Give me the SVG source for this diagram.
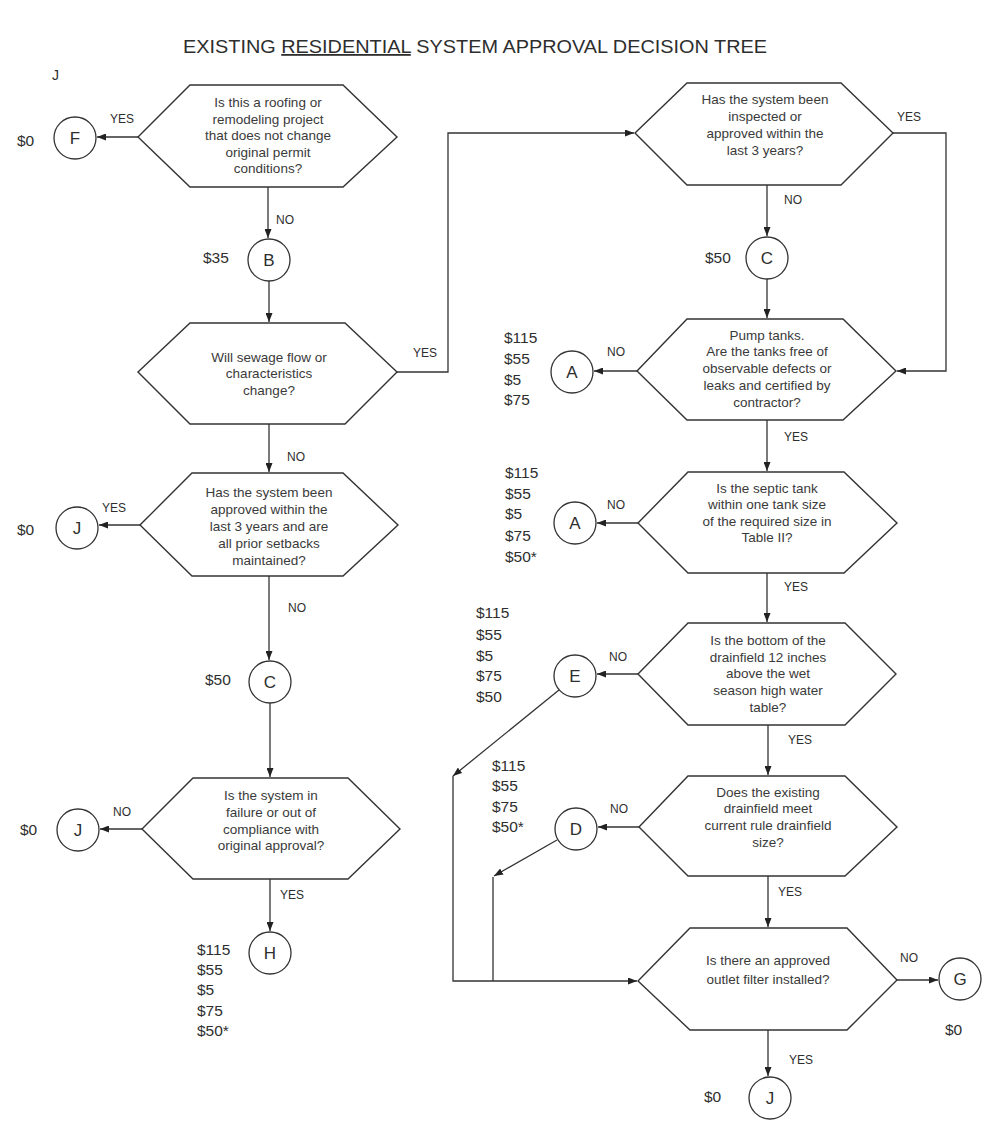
<svg xmlns="http://www.w3.org/2000/svg" width="985" height="1121" viewBox="0 0 985 1121">
<style>
.hex{fill:#fff;stroke:#333;stroke-width:1.4}
.cir{fill:#fff;stroke:#333;stroke-width:1.3}
text{font-family:"Liberation Sans",Arial,sans-serif;fill:#2e2e2e}
.ht{font-size:13.5px;text-anchor:middle;fill:#3a3a3a}
.lt{font-size:12px}
.mt{font-size:15.5px}
.ct{font-size:17px;text-anchor:middle}
.cn{fill:none;stroke:#333;stroke-width:1.3}
.ar{marker-end:url(#ah)}
</style>
<defs>
<marker id="ah" markerWidth="9" markerHeight="7" refX="9" refY="3.5" orient="auto" markerUnits="userSpaceOnUse"><path d="M0,0 L9,3.5 L0,7 z" fill="#222"/></marker>
</defs>
<rect width="985" height="1121" fill="#fff"/>
<text x="183" y="53" font-size="18" textLength="584" lengthAdjust="spacingAndGlyphs">EXISTING <tspan text-decoration="underline">RESIDENTIAL</tspan> SYSTEM APPROVAL DECISION TREE</text>
<text x="52" y="80" font-size="14">J</text>

<g id="connectors">
<path class="cn ar" d="M138,137 H97"/>
<path class="cn ar" d="M268,187 V238"/>
<path class="cn ar" d="M269,281 V322"/>
<path class="cn ar" d="M269,424 V472"/>
<path class="cn ar" d="M397,372 H448 V133 H634"/>
<path class="cn ar" d="M140,525 H99"/>
<path class="cn ar" d="M269,576 V660"/>
<path class="cn ar" d="M270,703 V777"/>
<path class="cn ar" d="M142,829 H100"/>
<path class="cn ar" d="M270,879 V931"/>
<path class="cn ar" d="M893,133 H946 V371 H897"/>
<path class="cn ar" d="M767,185 V236"/>
<path class="cn ar" d="M767,279 V318"/>
<path class="cn ar" d="M637,371 H594"/>
<path class="cn ar" d="M767,420 V471"/>
<path class="cn ar" d="M638,523 H597"/>
<path class="cn ar" d="M767,573 V622"/>
<path class="cn ar" d="M638,674 H597"/>
<path class="cn ar" d="M768,725 V775"/>
<path class="cn ar" d="M639,827 H598"/>
<path class="cn ar" d="M768,876 V927"/>
<path class="cn ar" d="M559,690 L453,776"/>
<path class="cn ar" d="M453,776 V981 H637"/>
<path class="cn ar" d="M557,840 L494,876"/>
<path class="cn" d="M493,877 V981"/>
<path class="cn ar" d="M897,980 H938"/>
<path class="cn ar" d="M768,1030 V1076"/>
<text class="lt" x="110" y="123">YES</text>
<text class="lt" x="276" y="224">NO</text>
<text class="lt" x="413" y="357">YES</text>
<text class="lt" x="287" y="461">NO</text>
<text class="lt" x="102" y="512">YES</text>
<text class="lt" x="288" y="612">NO</text>
<text class="lt" x="113" y="816">NO</text>
<text class="lt" x="280" y="899">YES</text>
<text class="lt" x="897" y="121">YES</text>
<text class="lt" x="784" y="204">NO</text>
<text class="lt" x="607" y="356">NO</text>
<text class="lt" x="784" y="441">YES</text>
<text class="lt" x="607" y="509">NO</text>
<text class="lt" x="784" y="591">YES</text>
<text class="lt" x="609" y="661">NO</text>
<text class="lt" x="788" y="744">YES</text>
<text class="lt" x="610" y="813">NO</text>
<text class="lt" x="778" y="896">YES</text>
<text class="lt" x="900" y="962">NO</text>
<text class="lt" x="789" y="1064">YES</text>
</g>

<g id="q1">
<polygon class="hex" points="138,137 190,85 343,85 397,137 343,187 190,187"/>
<text class="ht" x="268"><tspan x="268" y="107">Is this a roofing or</tspan><tspan x="268" y="123.5">remodeling project</tspan><tspan x="268" y="140">that does not change</tspan><tspan x="268" y="156.5">original permit</tspan><tspan x="268" y="173">conditions?</tspan></text>
</g>
<g id="nF"><circle class="cir" cx="75" cy="138" r="21"/><text class="ct" x="75" y="144">F</text><text class="mt" x="17" y="146">$0</text></g>
<g id="nB"><circle class="cir" cx="269" cy="260" r="21"/><text class="ct" x="269" y="266">B</text><text class="mt" x="203" y="263">$35</text></g>

<g id="q3">
<polygon class="hex" points="138,372 190,323 345,323 397,372 345,424 190,424"/>
<text class="ht"><tspan x="269" y="362">Will sewage flow or</tspan><tspan x="269" y="378">characteristics</tspan><tspan x="269" y="395">change?</tspan></text>
</g>
<g id="q4">
<polygon class="hex" points="140,525 192,473 343,473 398,525 343,576 192,576"/>
<text class="ht"><tspan x="269" y="497">Has the system been</tspan><tspan x="269" y="514">approved within the</tspan><tspan x="269" y="531">last 3 years and are</tspan><tspan x="269" y="548">all prior setbacks</tspan><tspan x="269" y="565">maintained?</tspan></text>
</g>
<g id="nJ1"><circle class="cir" cx="77" cy="528" r="21"/><text class="ct" x="77" y="534">J</text><text class="mt" x="17" y="535">$0</text></g>
<g id="nC1"><circle class="cir" cx="270" cy="682" r="21"/><text class="ct" x="270" y="688">C</text><text class="mt" x="205" y="685">$50</text></g>
<g id="q5">
<polygon class="hex" points="142,829 193,778 348,778 400,829 348,879 193,879"/>
<text class="ht"><tspan x="271" y="800">Is the system in</tspan><tspan x="271" y="817">failure or out of</tspan><tspan x="271" y="834">compliance with</tspan><tspan x="271" y="850">original approval?</tspan></text>
</g>
<g id="nJ2"><circle class="cir" cx="78" cy="830" r="21"/><text class="ct" x="78" y="836">J</text><text class="mt" x="20" y="835">$0</text></g>
<g id="nH"><circle class="cir" cx="270" cy="953" r="21"/><text class="ct" x="270" y="959">H</text>
<text class="mt"><tspan x="197" y="955">$115</tspan><tspan x="197" y="975">$55</tspan><tspan x="197" y="995">$5</tspan><tspan x="197" y="1016">$75</tspan><tspan x="197" y="1036">$50*</tspan></text></g>

<g id="q2">
<polygon class="hex" points="635,133 687,83 841,83 893,133 841,185 687,185"/>
<text class="ht"><tspan x="765" y="104">Has the system been</tspan><tspan x="765" y="121">inspected or</tspan><tspan x="765" y="138">approved within the</tspan><tspan x="765" y="155">last 3 years?</tspan></text>
</g>
<g id="nC2"><circle class="cir" cx="767" cy="258" r="21"/><text class="ct" x="767" y="264">C</text><text class="mt" x="705" y="263">$50</text></g>
<g id="q6">
<polygon class="hex" points="637,371 687,319 843,319 896,371 843,420 687,420"/>
<text class="ht"><tspan x="767" y="340">Pump tanks.</tspan><tspan x="767" y="356">Are the tanks free of</tspan><tspan x="767" y="373">observable defects or</tspan><tspan x="767" y="390">leaks and certified by</tspan><tspan x="767" y="407">contractor?</tspan></text>
</g>
<g id="nA1"><circle class="cir" cx="572" cy="372" r="21"/><text class="ct" x="572" y="378">A</text>
<text class="mt"><tspan x="504" y="343">$115</tspan><tspan x="504" y="364">$55</tspan><tspan x="504" y="385">$5</tspan><tspan x="504" y="405">$75</tspan></text></g>
<g id="q7">
<polygon class="hex" points="638,523 688,472 844,472 897,523 844,573 688,573"/>
<text class="ht"><tspan x="767" y="493">Is the septic tank</tspan><tspan x="767" y="509">within one tank size</tspan><tspan x="767" y="526">of the required size in</tspan><tspan x="767" y="542">Table II?</tspan></text>
</g>
<g id="nA2"><circle class="cir" cx="575" cy="523" r="21"/><text class="ct" x="575" y="529">A</text>
<text class="mt"><tspan x="505" y="478">$115</tspan><tspan x="505" y="499">$55</tspan><tspan x="505" y="519">$5</tspan><tspan x="505" y="541">$75</tspan><tspan x="505" y="562">$50*</tspan></text></g>
<g id="q8">
<polygon class="hex" points="638,674 688,623 845,623 896,674 845,725 688,725"/>
<text class="ht"><tspan x="768" y="645">Is the bottom of the</tspan><tspan x="768" y="662">drainfield 12 inches</tspan><tspan x="768" y="678">above the wet</tspan><tspan x="768" y="695">season high water</tspan><tspan x="768" y="712">table?</tspan></text>
</g>
<g id="nE"><circle class="cir" cx="575" cy="676" r="21"/><text class="ct" x="575" y="682">E</text>
<text class="mt"><tspan x="476" y="618">$115</tspan><tspan x="476" y="640">$55</tspan><tspan x="476" y="661">$5</tspan><tspan x="476" y="681">$75</tspan><tspan x="476" y="702">$50</tspan></text></g>
<g id="q9">
<polygon class="hex" points="639,827 688,776 845,776 897,827 845,876 688,876"/>
<text class="ht"><tspan x="768" y="797">Does the existing</tspan><tspan x="768" y="813">drainfield meet</tspan><tspan x="768" y="830">current rule drainfield</tspan><tspan x="768" y="847">size?</tspan></text>
</g>
<g id="nD"><circle class="cir" cx="576" cy="829" r="21"/><text class="ct" x="576" y="835">D</text>
<text class="mt"><tspan x="492" y="771">$115</tspan><tspan x="492" y="791">$55</tspan><tspan x="492" y="812">$75</tspan><tspan x="492" y="832">$50*</tspan></text></g>
<g id="q10">
<polygon class="hex" points="638,981 690,928 847,928 897,980 847,1030 690,1030"/>
<text class="ht"><tspan x="768" y="965">Is there an approved</tspan><tspan x="768" y="984">outlet filter installed?</tspan></text>
</g>
<g id="nG"><circle class="cir" cx="960" cy="979" r="21"/><text class="ct" x="960" y="985">G</text><text class="mt" x="945" y="1035">$0</text></g>
<g id="nJ3"><circle class="cir" cx="770" cy="1098" r="21"/><text class="ct" x="770" y="1104">J</text><text class="mt" x="704" y="1102">$0</text></g>
</svg>
